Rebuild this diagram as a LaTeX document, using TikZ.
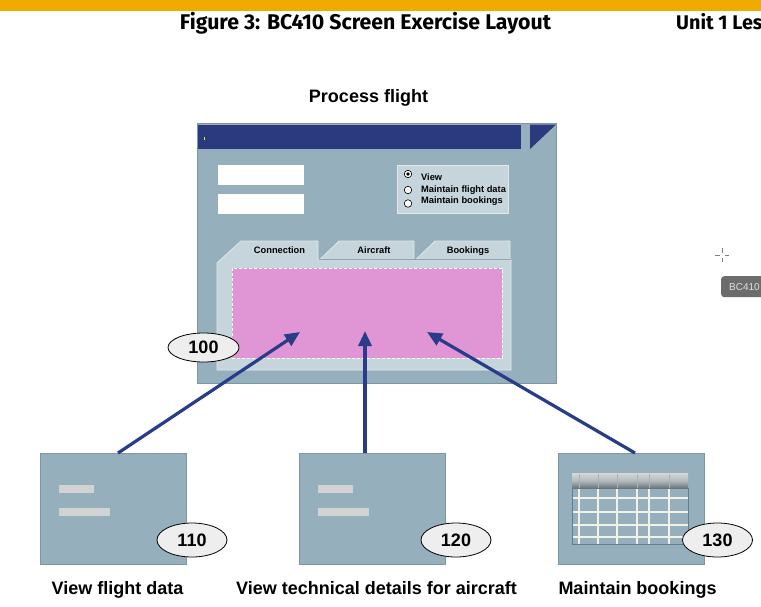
\documentclass[tikz,border=0pt]{standalone}
\usepackage{fontspec}
\setmainfont{Liberation Sans}
\newfontfamily\headfont{Fira Sans}
\usetikzlibrary{arrows.meta,shapes.geometric}
\definecolor{sapgold}{HTML}{F0AB00}
\definecolor{winfill}{HTML}{96AFBC}
\definecolor{winedge}{HTML}{7C96A4}
\definecolor{navy}{HTML}{2B3A7F}
\definecolor{panelfill}{HTML}{C6D5DC}
\definecolor{paneledge}{HTML}{E2EAEE}
\definecolor{tabline}{HTML}{8FA6B2}
\definecolor{pinkarea}{HTML}{E096D4}
\definecolor{arrowblue}{HTML}{283C8A}
\definecolor{fieldgray}{HTML}{D2D2D2}
\definecolor{ovalfill}{HTML}{EEEEEE}
\definecolor{tipgray}{HTML}{6C6C6C}
\definecolor{gridline}{HTML}{F2F2E6}
\definecolor{headtop}{HTML}{D4D8DA}
\definecolor{headbot}{HTML}{69767D}
\definecolor{tableedge}{HTML}{5F7E93}
\begin{document}
\begin{tikzpicture}[x=1pt,y=-1pt,
  win/.style={draw=winedge, fill=winfill, line width=0.8pt, inner sep=0pt, outer sep=0pt, anchor=north west},
  field/.style={fill=white, inner sep=0pt, anchor=north west, minimum width=86pt, minimum height=20pt},
  bar/.style={fill=fieldgray, inner sep=0pt, anchor=north west, minimum height=8pt},
  oval/.style={ellipse, draw=black, line width=0.8pt, fill=ovalfill, minimum width=70pt, minimum height=34pt, inner sep=0pt, font=\fontsize{18}{20}\selectfont\bfseries},
  caption/.style={anchor=base, inner sep=0pt, font=\fontsize{18}{20}\selectfont\bfseries},
  headline/.style={inner sep=0pt, font=\headfont\fontsize{18}{20}\selectfont\bfseries},
  small/.style={font=\fontsize{9.3}{11}\selectfont\bfseries, inner sep=0pt, anchor=base},
  radio/.style={circle, draw=black, fill=white, line width=0.6pt, minimum size=7.5pt, inner sep=0pt},
  flow/.style={draw=arrowblue, line width=3.2pt, -{Triangle[length=15pt,width=13pt]}},
]
\useasboundingbox (0,0) rectangle (761,606);
\fill[white] (0,0) rectangle (761,606);
\begin{scope}
\clip (0,0) rectangle (761,606);

% header band and running titles
\fill[sapgold] (0,0) rectangle (761,11);
\node[headline, anchor=base] (figtitle) at (365.5,29)
  {\resizebox{371pt}{!}{Figure 3: BC410 Screen Exercise Layout}};
\node[headline, anchor=base west] (unit) at (676,29) {\scalebox{1.1}{Unit 1 Lesson}};

% main screen
\node[caption] (ptitle) at (368.5,102) {Process flight};
\node[win, minimum width=359pt, minimum height=260pt] (main) at (197,123) {};
\fill[navy] (198,125) rectangle (521,149);
\fill[navy] (530,124.5) -- (556,124.5) -- (530,149) -- cycle;
\fill[yellow!90!orange] (203.6,137) rectangle (205.2,139.6);

\node[field] (f1) at (218,165) {};
\node[field] (f2) at (218,194) {};

\node[draw=paneledge, fill=panelfill, line width=0.6pt, inner sep=0pt, anchor=north west,
      minimum width=111pt, minimum height=48pt] (rbox) at (397,165) {};
\node[radio] (r1) at (408,174) {};
\fill[black] (r1.center) circle (1.8pt);
\node[radio] (r2) at (408,190) {};
\node[radio] (r3) at (408,203.5) {};
\node[small, anchor=base west] (l1) at (421,180) {View};
\node[small, anchor=base west] (l2) at (421,192) {Maintain flight data};
\node[small, anchor=base west] (l3) at (421,203.5) {Maintain bookings};

% tab strip and panel
\draw[draw=paneledge, fill=panelfill, line width=0.8pt]
  (320,259.5) -- (339,241) -- (414,241) -- (414,259.5);
\draw[draw=paneledge, fill=panelfill, line width=0.8pt]
  (416,259.5) -- (435,241) -- (510,241) -- (510,259.5);
\draw[draw=paneledge, fill=panelfill, line width=0.8pt]
  (217,370) -- (217,263) -- (241,241) -- (318,241) -- (318,259.5)
  -- (511,259.5) -- (511,370) -- cycle;
\draw[tabline, line width=0.6pt] (319,259.5) -- (511,259.5);
\node[small] (tab1) at (279.5,253) {Connection};
\node[small] (tab2) at (374,253) {Aircraft};
\node[small] (tab3) at (468,253) {Bookings};

\node[fill=pinkarea, draw=white, dash pattern=on 3pt off 2pt, line width=0.6pt,
      inner sep=0pt, anchor=north west, minimum width=270pt, minimum height=90pt]
  (area) at (232,268) {};

\node[oval, minimum width=71pt, minimum height=29pt] (o100) at (203.5,347.5) {100};

% detail screens
\node[win, minimum width=146pt, minimum height=111pt] (w1) at (40,453) {};
\node[bar, minimum width=35pt] (w1a) at (59,485) {};
\node[bar, minimum width=51pt] (w1b) at (59,508) {};

\node[win, minimum width=146pt, minimum height=111pt] (w2) at (299,453) {};
\node[bar, minimum width=35pt] (w2a) at (318,485) {};
\node[bar, minimum width=51pt] (w2b) at (318,508) {};

\node[win, minimum width=146pt, minimum height=111pt] (w3) at (558,453) {};
% table control inside the bookings screen
\draw[tableedge, line width=0.8pt] (572,488) -- (572,544) -- (688,544) -- (688,488);
\foreach \gy in {498,512,525,537}
  \draw[gridline, line width=1.1pt] (572.5,\gy) -- (687.5,\gy);
\foreach \gx in {579,598,617,637,649,669}
  \draw[gridline, line width=1.1pt] (\gx,488) -- (\gx,543.5);
\shade[top color=headtop, bottom color=headbot, middle color=headtop!70!headbot]
  (572,473) rectangle (688,488);
\foreach \gx in {579,598,617,637,649,669}
  \draw[headtop!60!headbot, line width=0.6pt] (\gx,474) -- (\gx,488);

\node[oval] (o110) at (192,540) {110};
\node[oval] (o120) at (456,540) {120};
\node[oval] (o130) at (717.5,540) {130};

\node[caption] (c1) at (117.5,594) {View flight data};
\node[caption] (c2) at (376.5,594) {View technical details for aircraft};
\node[caption] (c3) at (637.5,594) {Maintain bookings};

% navigation arrows from the detail screens into the tab area
\coordinate (s1) at (118,453);
\coordinate (s2) at (365,453);
\coordinate (s3) at (635,453);
\coordinate (t1) at (300,332);
\coordinate (t2) at (365,331);
\coordinate (t3) at (427,332);
\draw[flow] (s1) -- (t1);
\draw[flow] (s2) -- (t2);
\draw[flow] (s3) -- (t3);

% pointer and tooltip
\draw[gray, line width=0.7pt] (715,255) -- (719.5,255) (724.5,255) -- (729,255)
  (722,248) -- (722,252.5) (722,257.5) -- (722,262);
\node[fill=tipgray, rounded corners=3pt, text=white!88!black, anchor=north west,
      inner xsep=8pt, inner ysep=0pt, minimum height=21pt,
      font=\fontsize{10}{12}\selectfont] (tip) at (721,276) {BC410};
\end{scope}
\end{tikzpicture}
\end{document}
